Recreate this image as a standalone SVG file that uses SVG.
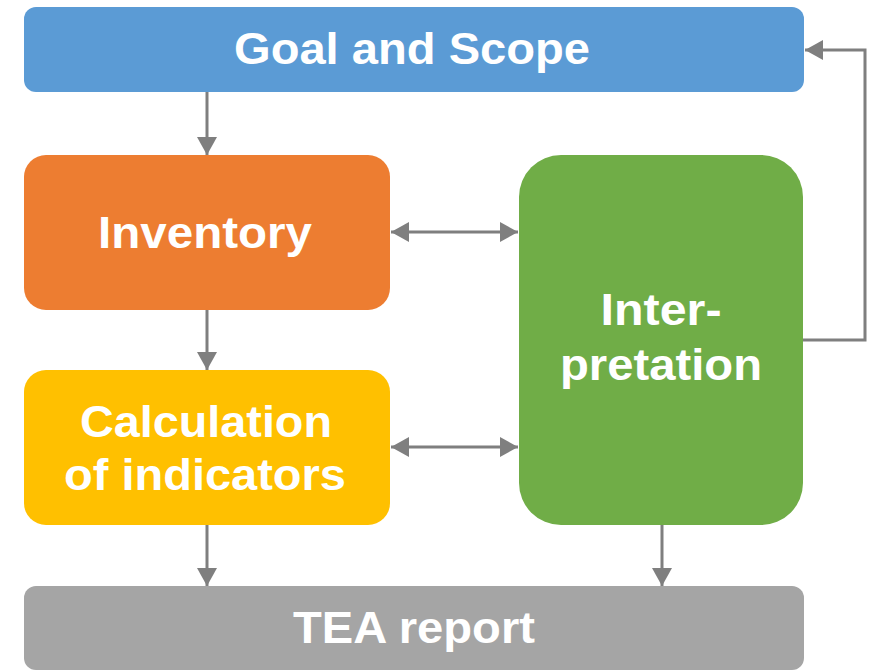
<svg xmlns="http://www.w3.org/2000/svg" width="879" height="671" viewBox="0 0 879 671">
<defs>
<style>
.lbl{font-family:"Liberation Sans",Arial,sans-serif;font-weight:bold;font-size:45px;fill:#ffffff;text-anchor:middle}
.con{fill:none;stroke:#7f7f7f;stroke-width:3}
</style>
<marker id="ah" viewBox="0 0 18 20" refX="18" refY="10" markerWidth="18" markerHeight="20" markerUnits="userSpaceOnUse" orient="auto-start-reverse">
<path d="M0,0 L18,10 L0,20 Z" fill="#7f7f7f"/>
</marker>
</defs>
<rect width="879" height="671" fill="#ffffff"/>
<g id="connectors">
<line class="con" x1="207" y1="92" x2="207" y2="155" marker-end="url(#ah)"/>
<line class="con" x1="207" y1="310" x2="207" y2="370" marker-end="url(#ah)"/>
<line class="con" x1="207" y1="525" x2="207" y2="586" marker-end="url(#ah)"/>
<line class="con" x1="662" y1="525" x2="662" y2="586" marker-end="url(#ah)"/>
<line class="con" x1="391" y1="232" x2="518" y2="232" marker-start="url(#ah)" marker-end="url(#ah)"/>
<line class="con" x1="391" y1="447" x2="518" y2="447" marker-start="url(#ah)" marker-end="url(#ah)"/>
<polyline class="con" points="803,340 865,340 865,50 805,50" marker-end="url(#ah)"/>
</g>
<g id="goal">
<rect x="24" y="7" width="780" height="85" rx="12" fill="#5b9bd5"/>
<text class="lbl" x="412" y="64" textLength="356" lengthAdjust="spacingAndGlyphs">Goal and Scope</text>
</g>
<g id="inventory">
<rect x="24" y="155" width="366" height="155" rx="22" fill="#ed7d31"/>
<text class="lbl" x="205" y="248" textLength="214" lengthAdjust="spacingAndGlyphs">Inventory</text>
</g>
<g id="calculation">
<rect x="24" y="370" width="366" height="155" rx="22" fill="#ffc000"/>
<text class="lbl" x="206" y="437" textLength="252" lengthAdjust="spacingAndGlyphs">Calculation</text>
<text class="lbl" x="205" y="490" textLength="282" lengthAdjust="spacingAndGlyphs">of indicators</text>
</g>
<g id="interpretation">
<rect x="519" y="155" width="284" height="370" rx="42" fill="#70ad47"/>
<text class="lbl" x="661" y="325" textLength="121" lengthAdjust="spacingAndGlyphs">Inter-</text>
<text class="lbl" x="661" y="380" textLength="202" lengthAdjust="spacingAndGlyphs">pretation</text>
</g>
<g id="tea">
<rect x="24" y="586" width="780" height="84" rx="12" fill="#a5a5a5"/>
<text class="lbl" x="414" y="643" textLength="242" lengthAdjust="spacingAndGlyphs">TEA report</text>
</g>
</svg>
